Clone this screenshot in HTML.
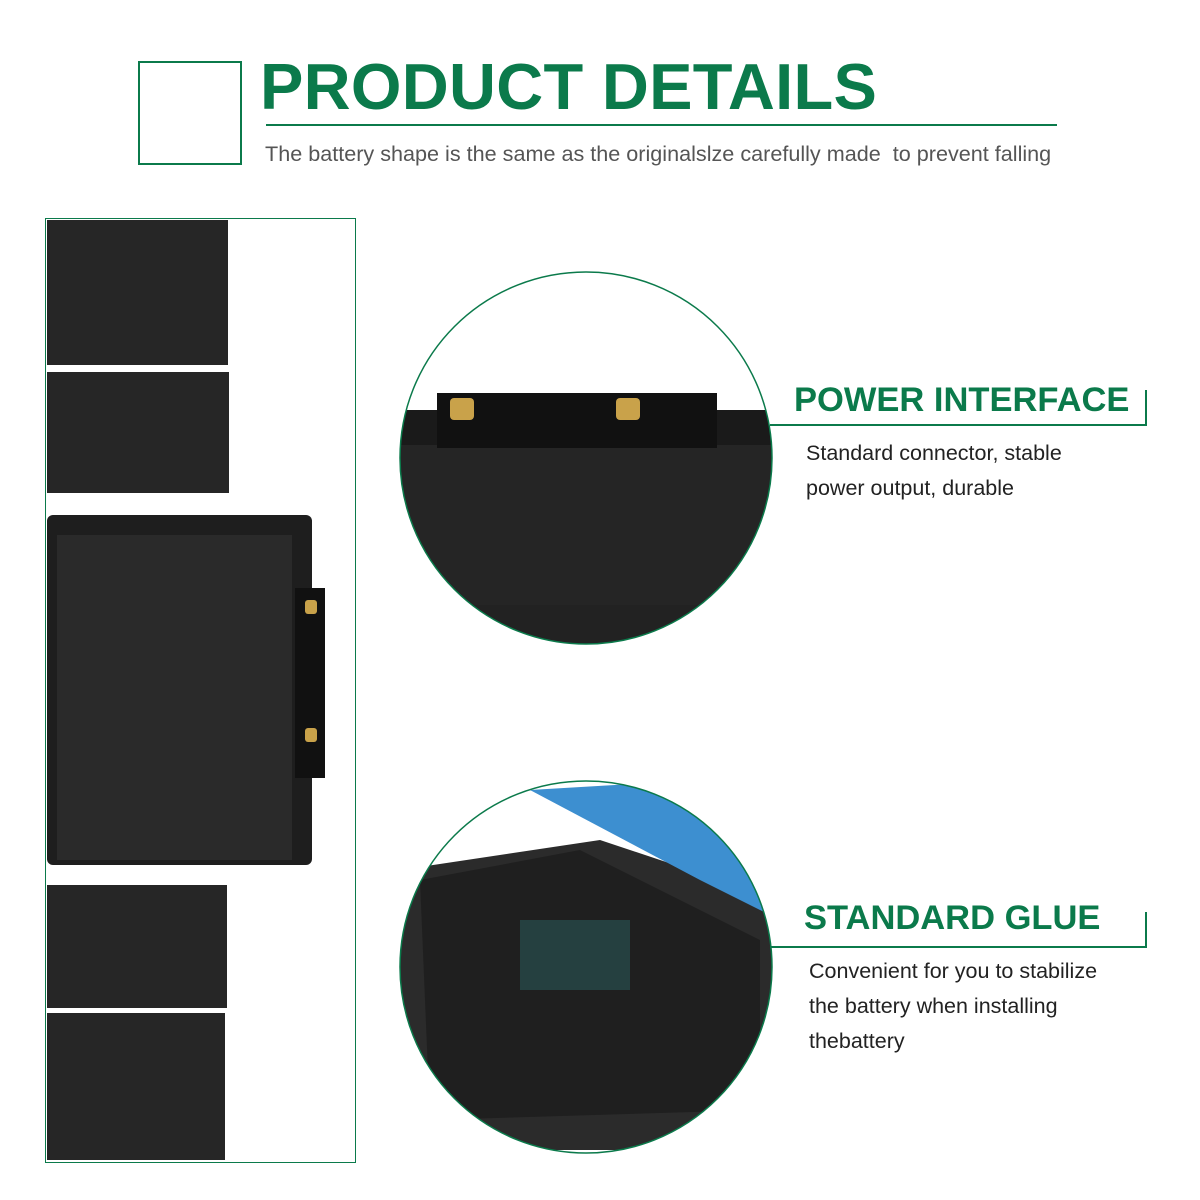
<!DOCTYPE html>
<html><head><meta charset="utf-8"><style>
body{margin:0;width:1200px;height:1200px;background:#fff;position:relative;overflow:hidden;font-family:"Liberation Sans",sans-serif}
.a{position:absolute}
.g{color:#0b7a4b;font-weight:bold}
.t{color:#222;font-size:21.5px}
</style></head><body>
<div class="a" style="left:138px;top:61px;width:100px;height:100px;border:2px solid #0b7a4b"></div>
<div class="a g" style="left:260px;top:49px;font-size:65px;letter-spacing:0.3px;white-space:nowrap">PRODUCT DETAILS</div>
<div class="a" style="left:266px;top:124px;width:791px;height:2px;background:#0b7a4b"></div>
<div class="a" style="left:265px;top:141px;font-size:21.6px;color:#555;white-space:nowrap">The battery shape is the same as the originalslze carefully made&nbsp; to prevent falling</div>

<div class="a" style="left:45px;top:218px;width:309px;height:943px;border:1px solid #0b7a4b"></div>
<div class="a" style="left:47px;top:220px;width:181px;height:145px;background:#262626"></div>
<div class="a" style="left:47px;top:372px;width:182px;height:121px;background:#262626"></div>
<div class="a" style="left:47px;top:515px;width:265px;height:350px;background:#1e1e1e;border-radius:6px"></div>
<div class="a" style="left:57px;top:535px;width:235px;height:325px;background:#2a2a2a"></div>
<div class="a" style="left:295px;top:588px;width:30px;height:190px;background:#111"></div>
<div class="a" style="left:305px;top:600px;width:12px;height:14px;background:#c9a24a;border-radius:3px"></div>
<div class="a" style="left:305px;top:728px;width:12px;height:14px;background:#c9a24a;border-radius:3px"></div>
<div class="a" style="left:47px;top:885px;width:180px;height:123px;background:#262626"></div>
<div class="a" style="left:47px;top:1013px;width:178px;height:147px;background:#262626"></div>

<svg class="a" style="left:0;top:0" width="1200" height="1200">
<defs>
<clipPath id="c1"><circle cx="586" cy="458" r="186"/></clipPath>
<clipPath id="c2"><circle cx="586" cy="967" r="186"/></clipPath>
</defs>
<g clip-path="url(#c1)">
<rect x="390" y="270" width="400" height="390" fill="#fff"/>
<rect x="390" y="440" width="400" height="220" fill="#252525"/>
<rect x="390" y="410" width="400" height="35" fill="#1a1a1a"/>
<rect x="437" y="393" width="280" height="55" fill="#111"/>
<rect x="450" y="398" width="24" height="22" fill="#c9a24a" rx="4"/>
<rect x="616" y="398" width="24" height="22" fill="#c9a24a" rx="4"/>
<rect x="390" y="605" width="400" height="40" fill="#222"/>
</g>
<circle cx="586" cy="458" r="186" fill="none" stroke="#0b7a4b" stroke-width="1.5"/>
<g clip-path="url(#c2)">
<rect x="390" y="780" width="400" height="380" fill="#fff"/>
<polygon points="400,870 600,840 780,900 780,1150 400,1150" fill="#2b2b2b"/>
<polygon points="420,880 580,850 760,940 760,1110 430,1120" fill="#1f1f1f"/>
<polygon points="530,790 700,780 780,840 780,920 700,880" fill="#3d8fd0"/>
<rect x="520" y="920" width="110" height="70" fill="#254040"/>
</g>
<circle cx="586" cy="967" r="186" fill="none" stroke="#0b7a4b" stroke-width="1.5"/>
<polyline points="770,425 1146,425 1146,390" fill="none" stroke="#0b7a4b" stroke-width="2"/>
<polyline points="770,947 1146,947 1146,912" fill="none" stroke="#0b7a4b" stroke-width="2"/>
</svg>

<div class="a g" style="left:794px;top:381px;font-size:34.5px;white-space:nowrap">POWER INTERFACE</div>
<div class="a t" style="left:806px;top:436px;line-height:35px">Standard connector, stable<br>power output, durable</div>
<div class="a g" style="left:804px;top:899px;font-size:34.5px;white-space:nowrap">STANDARD GLUE</div>
<div class="a t" style="left:809px;top:954px;line-height:35px">Convenient for you to stabilize<br>the battery when installing<br>thebattery</div>
</body></html>
